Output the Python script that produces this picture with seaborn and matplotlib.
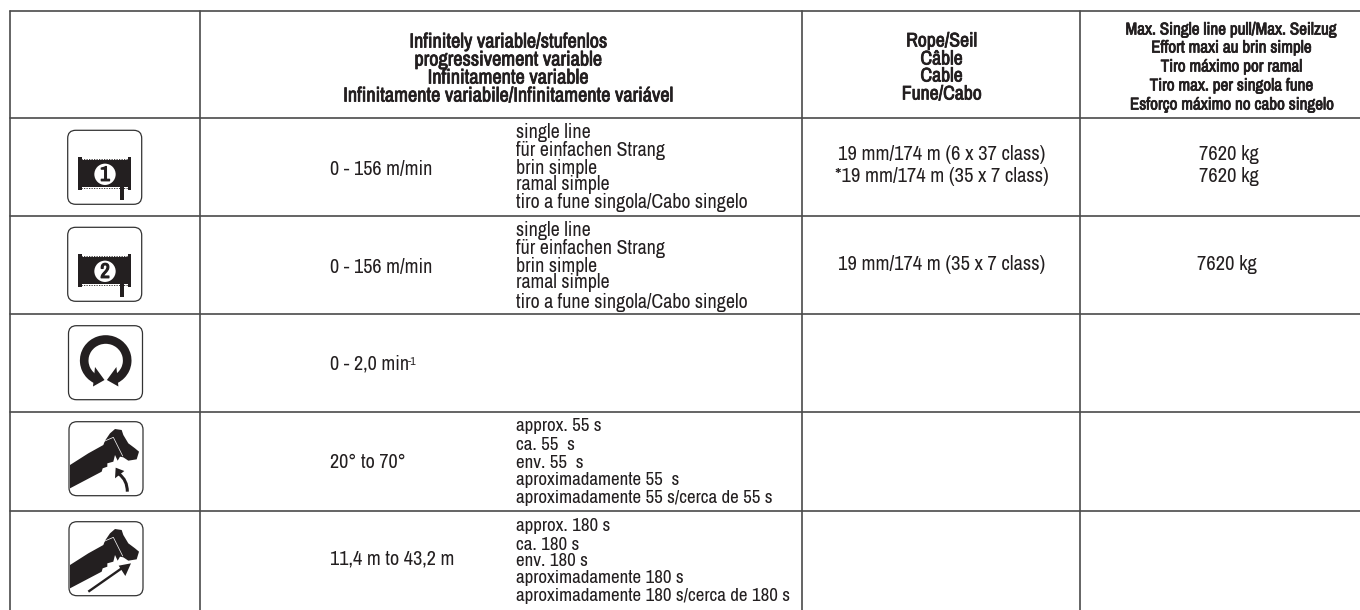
import matplotlib
matplotlib.use("Agg")
import matplotlib.pyplot as plt
import matplotlib.patheffects as pe
import numpy as np
import pandas as pd
import seaborn as sns
from matplotlib.patches import Arc, Circle, FancyBboxPatch, PathPatch, Polygon, Rectangle
from matplotlib.path import Path

sns.set_theme(style="white")
plt.rcParams["font.family"] = ["Archivo Narrow", "Liberation Sans", "DejaVu Sans"]

INK = "#231f20"
RULE = "#4a4a4a"

# header texts
head_speed = ["Infinitely variable/stufenlos", "progressivement variable", "Infinitamente variable",
              "Infinitamente variabile/Infinitamente variável"]
head_rope = ["Rope/Seil", "Câble", "Cable", "Fune/Cabo"]
head_pull = ["Max. Single line pull/Max. Seilzug", "Effort maxi au brin simple", "Tiro máximo por ramal",
             "Tiro max. per singola fune", "Esforço máximo no cabo singelo"]

# table body
speeds = ["0 - 156 m/min", "0 - 156 m/min", "0 - 2,0 min", "20° to 70°", "11,4 m to 43,2 m"]
single_line = ["single line", "für einfachen Strang", "brin simple", "ramal simple",
               "tiro a fune singola/Cabo singelo"]
luff_notes = ["approx. 55 s", "ca. 55  s", "env. 55  s", "aproximadamente 55  s",
              "aproximadamente 55 s/cerca de 55 s"]
tele_notes = ["approx. 180 s", "ca. 180 s", "env. 180 s", "aproximadamente 180 s",
              "aproximadamente 180 s/cerca de 180 s"]
rope_row1 = ["19 mm/174 m (6 x 37 class)", "*19 mm/174 m (35 x 7 class)"]
rope_row2 = ["19 mm/174 m (35 x 7 class)"]
pull_row1 = ["7620 kg", "7620 kg"]
pull_row2 = ["7620 kg"]

# rule positions of the table
col_x = [9.5, 199.5, 802, 1080]
row_y = [11, 117.7, 216, 314, 412.3, 510.7]

fig, ax = plt.subplots(figsize=(13.6, 6.1), dpi=100)
ax.set_position([0, 0, 1, 1])

rules = []
for i, y in enumerate(row_y):
    rules.append(pd.DataFrame({"x": [col_x[0], 1360], "y": [y, y], "rule": f"h{i}"}))
for i, x in enumerate(col_x):
    rules.append(pd.DataFrame({"x": [x, x], "y": [11, 610], "rule": f"v{i}"}))
rules = pd.concat(rules)
sns.lineplot(data=rules, x="x", y="y", units="rule", estimator=None, sort=False,
             color=RULE, linewidth=1.2, legend=False, ax=ax)
ax.set_xlim(0, 1360)
ax.set_ylim(610, 0)
ax.set_xlabel("")
ax.set_ylabel("")
ax.set_xticks([])
ax.set_yticks([])
sns.despine(ax=ax, left=True, bottom=True)

# the narrow face has no bold, so thicken it with a thin stroke
heavy = [pe.Stroke(linewidth=0.55, foreground=INK), pe.Normal()]


def put_lines(lines, x, ys, ha="left", bold=False, size=14.4):
    # ys are line centres, text sits on the baseline a bit lower
    for line, y in zip(lines, ys):
        t = ax.text(x, y + 5.5, line, ha=ha, va="baseline", fontsize=size, color=INK)
        if bold:
            t.set_path_effects(heavy)


put_lines(head_speed, 508, [42, 60, 78, 96], ha="center", bold=True, size=14.6)
put_lines(head_rope, 941.5, [41, 59, 76, 94], ha="center", bold=True, size=14.2)
put_lines(head_pull, 1231.6, [29, 47, 66, 85, 104], ha="center", bold=True, size=12.3)

value_y = [169, 267, 364, 462, 559]
for txt, y in zip(speeds, value_y):
    put_lines([txt], 330, [y], size=14.6)
ax.text(407.5, 365, "-1", fontsize=8.5, color=INK, ha="left", va="baseline")

put_lines(single_line, 516, [132, 150, 168, 185, 203])
put_lines(single_line, 516, [230, 248, 266, 283, 302])
put_lines(luff_notes, 516, [426, 444, 462, 480, 498], size=13.7)
put_lines(tele_notes, 516, [526, 544, 561, 578, 596], size=13.7)
put_lines(rope_row1, 941.5, [155, 177], ha="center", size=14.8)
put_lines(rope_row2, 941.5, [265], ha="center", size=14.8)
put_lines(pull_row1, 1228.6, [155, 177], ha="center", size=14.8)
put_lines(pull_row2, 1227, [265], ha="center", size=14.8)


def icon_box(x0, y0):
    ax.add_patch(FancyBboxPatch((x0, y0), 74, 74, boxstyle="round,pad=0,rounding_size=8",
                                fc="white", ec="#333333", lw=0.9, zorder=3))


def drum_icon(y0, num):
    icon_box(67.7, y0)
    ax.add_patch(Rectangle((78.3, y0 + 30), 52.7, 26.5, fc=INK, ec="none", zorder=4))
    ax.add_patch(Rectangle((78.3, y0 + 26.5), 3.2, 33, fc=INK, ec="none", zorder=4))
    ax.add_patch(Rectangle((127.8, y0 + 26.5), 3.2, 33, fc=INK, ec="none", zorder=4))
    ax.plot([81, 128], [y0 + 28.6, y0 + 28.6], color=INK, lw=0.6, ls=(0, (1.5, 1.5)), zorder=4)
    ax.plot([81, 128], [y0 + 57.8, y0 + 57.8], color=INK, lw=0.6, ls=(0, (1.5, 1.5)), zorder=4)
    ax.add_patch(Rectangle((120, y0 + 56), 4, 14, fc=INK, ec="none", zorder=4))
    ax.add_patch(Circle((105, y0 + 44), 11.5, fc="white", ec=INK, lw=1.2, zorder=5))
    t = ax.text(105, y0 + 50.5, num, ha="center", va="baseline", fontsize=15, color=INK, zorder=6)
    t.set_path_effects([pe.Stroke(linewidth=0.9, foreground=INK), pe.Normal()])


# boom outline, traced from the icon at 3x
boom = np.array([[150, 195], [205, 160], [250, 135], [255, 122], [270, 100], [285, 87], [305, 90],
                 [310, 105], [325, 130], [345, 145], [357, 155], [350, 178], [325, 182], [310, 172],
                 [300, 170], [293, 182], [285, 165], [280, 185], [262, 190], [262, 200], [248, 205],
                 [245, 215], [150, 265]], dtype=float)


def px(x, y, y0):
    return x / 3 + 20, y / 3 + y0 - 21.7


def boom_icon(y0):
    icon_box(69, y0)
    pts = [px(x, y, y0) for x, y in boom]
    ax.add_patch(Polygon(pts, closed=True, fc=INK, ec="none", zorder=4))
    x1, y1 = px(250, 125, y0)
    x2, y2 = px(280, 112, y0)
    x3, y3 = px(308, 168, y0)
    ax.plot([x1, x2, x3], [y1, y2, y3], color="white", lw=0.5, zorder=5)


drum_icon(130.3, "1")
drum_icon(227.3, "2")

# slew icon
icon_box(68.5, 325.7)
ax.add_patch(Arc((105.7, 360.5), 43, 42, theta1=118, theta2=422, lw=6.2, color=INK, zorder=4))
ax.add_patch(Polygon([[95, 367], [104.5, 380], [93, 386.5]], closed=True, fc=INK, ec="none", zorder=5))
ax.add_patch(Polygon([[116.4, 367], [106.9, 380], [118.4, 386.5]], closed=True, fc=INK, ec="none", zorder=5))

# luffing icon
boom_icon(421.7)
curve = Path([px(322, 275, 421.7), px(322, 240, 421.7), px(297, 222, 421.7)],
             [Path.MOVETO, Path.CURVE3, Path.CURVE3])
ax.add_patch(PathPatch(curve, fc="none", ec=INK, lw=2.2, zorder=4))
ax.add_patch(Polygon([px(287, 203, 421.7), px(285, 235, 421.7), px(313, 213, 421.7)], closed=True,
                     fc=INK, ec="none", zorder=4))

# telescoping icon
boom_icon(521.7)
x1, y1 = px(205, 275, 521.7)
x2, y2 = px(305, 205, 521.7)
ax.plot([x1, x2], [y1, y2], color=INK, lw=1.7, solid_capstyle="butt", zorder=4)
ax.add_patch(Polygon([px(333, 190, 521.7), px(296, 197, 521.7), px(316, 228, 521.7)], closed=True,
                     fc=INK, ec="none", zorder=4))

fig.savefig("out.png", dpi=100)
